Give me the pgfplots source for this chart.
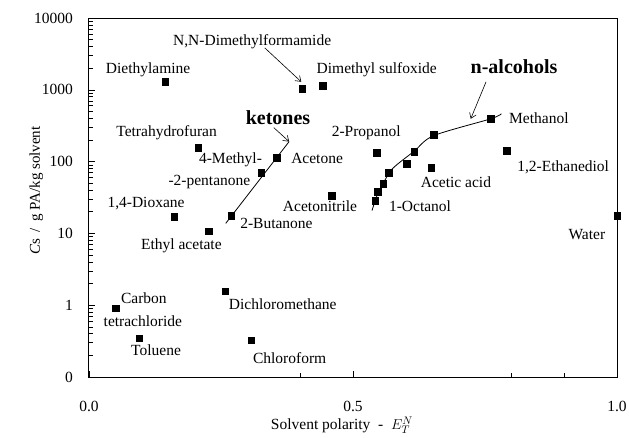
\documentclass[border=0pt]{standalone}
\usepackage{fontspec}
\setmainfont{Liberation Serif}
\usepackage{pgfplots}
\pgfplotsset{compat=1.18}
\usetikzlibrary{arrows.meta}
\begin{document}
\begin{tikzpicture}[font=\fontsize{15.5}{18}\selectfont]
\begin{axis}[
  scale only axis, width=528pt, height=359pt,
  xmin=0, xmax=1, ymode=log, ymin=0.1, ymax=10000,
  clip=false,
  /pgf/number format/assume math mode=true,
  axis line style={line width=1pt},
  xtick={0,0.5,1}, xticklabels={0.0,0.5,1.0},
  minor xtick={0.4,0.8,0.9},
  ytick={0.1,1,10,100,1000,10000}, yticklabels={0,1,10,100,1000,10000},
  minor ytick={0.2,0.3,0.4,0.5,0.6,0.7,0.8,0.9,2,3,4,5,6,7,8,9,20,30,40,50,60,70,80,90,200,300,400,500,600,700,800,900,2000,3000,4000,5000,6000,7000,8000,9000},
  xtick pos=left, ytick pos=left,
  tick align=inside,
  major tick length=6pt, minor tick length=4pt,
  every tick/.style={black, line width=0.6pt},
  xticklabel style={anchor=center, yshift=-29pt, inner sep=0pt},
  yticklabel style={anchor=east, xshift=-16pt, inner sep=0pt},
  xlabel={Solvent polarity \ - \ $E_T^N$},
  xlabel style={at={(axis description cs:0.479,0)}, anchor=center, yshift=-48pt},
  ylabel={\textit{C}s \,/\, g PA/kg solvent},
  ylabel style={at={(axis description cs:-0.100,0.52)}, anchor=center, font=\fontsize{15}{18}\selectfont},
]
\addplot[only marks, mark=square*, mark size=3.3pt, black] coordinates {
(0.144,1290) (0.404,1030) (0.443,1140) (0.207,156) (0.356,114) (0.326,70)
(0.269,17.8) (0.161,17.2) (0.227,10.7) (0.460,33.7) (0.258,1.56) (0.051,0.91)
(0.095,0.348) (0.307,0.327) (1.000,17.8) (0.761,395) (0.653,237) (0.616,138)
(0.602,94) (0.568,70) (0.557,49.4) (0.547,38.3) (0.542,28.7) (0.545,133)
(0.648,82.6) (0.791,142)
};
\addplot[no marks, black, line width=0.8pt] coordinates {(0.259,13.8) (0.379,190)};
\addplot[no marks, black, line width=0.8pt, smooth, tension=0.5] coordinates {
(0.536,20.8) (0.545,33) (0.557,49.4) (0.575,80) (0.616,140) (0.653,230) (0.761,395) (0.781,464)
};
\draw[-{Straight Barb[length=5pt,width=7pt]}, line width=0.6pt] (axis cs:0.333,3830) -- (axis cs:0.402,1292);
\draw[-{Straight Barb[length=5pt,width=7pt]}, line width=0.6pt] (axis cs:0.350,297) -- (axis cs:0.379,190);
\draw[-{Straight Barb[length=5pt,width=7pt]}, line width=0.6pt] (axis cs:0.752,1292) -- (axis cs:0.723,395);
\begin{scope}[every node/.style={inner sep=0pt, anchor=center}]
\node at (axis cs:0.309,4640) {N,N-Dimethylformamide};
\node at (axis cs:0.112,1897) {Diethylamine};
\node at (axis cs:0.545,1897) {Dimethyl sulfoxide};
\node[font=\fontsize{20}{24}\selectfont\bfseries] at (axis cs:0.358,408) {ketones};
\node[font=\fontsize{20}{24}\selectfont\bfseries] at (axis cs:0.805,2084) {n-alcohols};
\node at (axis cs:0.147,253) {Tetrahydrofuran};
\node at (axis cs:0.268,107) {4-Methyl-};
\node at (axis cs:0.228,52.7) {-2-pentanone};
\node at (axis cs:0.432,110) {Acetone};
\node at (axis cs:0.525,253) {2-Propanol};
\node at (axis cs:0.852,408) {Methanol};
\node at (axis cs:0.898,82.6) {1,2-Ethanediol};
\node at (axis cs:0.695,51) {Acetic acid};
\node at (axis cs:0.627,23.7) {1-Octanol};
\node at (axis cs:0.4375,23.7) {Acetonitrile};
\node at (axis cs:0.108,26.1) {1,4-Dioxane};
\node at (axis cs:0.355,13.8) {2-Butanone};
\node at (axis cs:0.175,6.81) {Ethyl acetate};
\node at (axis cs:0.104,1.25) {Carbon};
\node at (axis cs:0.102,0.6) {tetrachloride};
\node at (axis cs:0.127,0.237) {Toluene};
\node at (axis cs:0.367,1.03) {Dichloromethane};
\node at (axis cs:0.380,0.184) {Chloroform};
\node at (axis cs:0.943,9.68) {Water};
\end{scope}
\end{axis}
\pgfresetboundingbox
\path (current axis.south west) +(-89pt,-60pt) (current axis.north east) +(12pt,18pt);
\end{tikzpicture}
\end{document}
